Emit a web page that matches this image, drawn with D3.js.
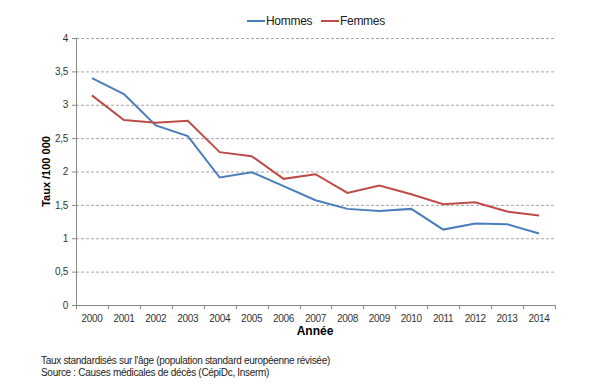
<!DOCTYPE html>
<html lang="fr">
<head>
  <meta charset="UTF-8">
  <title>Taux /100 000 - Hommes / Femmes</title>
  <script src="https://d3js.org/d3.v7.min.js"></script>
  <style>
    body {
      margin: 0;
      background: #ffffff;
      font-family: "Liberation Sans", Arial, sans-serif;
    }
    .tick text {
      fill: #333;
      font-size: 10px;
      letter-spacing: -0.3px;
    }
    .grid line {
      stroke: #a6a6a6;
      stroke-dasharray: 3,2;
    }
    .line {
      fill: none;
      stroke-width: 2px;
    }
    .note {
      font-size: 10px;
      fill: #222;
      letter-spacing: -0.3px;
    }
  </style>
</head>
<body>
<div id="chart"></div>
<script>
// data
const years = ["2000","2001","2002","2003","2004","2005","2006","2007","2008","2009","2010","2011","2012","2013","2014"];
const hommes = [3.40, 3.16, 2.69, 2.53, 1.91, 1.99, 1.78, 1.57, 1.44, 1.41, 1.44, 1.13, 1.22, 1.21, 1.07];
const femmes = [3.14, 2.77, 2.73, 2.76, 2.29, 2.23, 1.89, 1.96, 1.68, 1.79, 1.66, 1.51, 1.54, 1.40, 1.34];
const yTicks = [0, 0.5, 1, 1.5, 2, 2.5, 3, 3.5, 4];

const series = [
  { label: "Hommes", values: hommes, color: "#4a7ebb" },
  { label: "Femmes", values: femmes, color: "#be4b48" }
];

const W = 600, H = 387;
const margin = { top: 38, right: 45, bottom: 82, left: 76 };
const width = W - margin.left - margin.right;
const height = H - margin.top - margin.bottom;

const svg = d3.select("#chart").append("svg")
    .attr("width", W)
    .attr("height", H);

const chart = svg.append("g")
    .attr("transform", `translate(${margin.left},${margin.top})`);

const x = d3.scaleBand().domain(years).range([0, width]);
const y = d3.scaleLinear().domain([0, 4]).range([height, 0]);

// gridlines
chart.append("g")
    .attr("class", "grid")
    .selectAll("line")
    .data(yTicks.filter(d => d > 0))
    .join("line")
    .attr("x1", 0)
    .attr("x2", width)
    .attr("y1", d => y(d) + 0.5)
    .attr("y2", d => y(d) + 0.5);

const fmt = d => String(d).replace(".", ",");

// y axis
const yAxis = chart.append("g")
    .call(d3.axisLeft(y).tickValues(yTicks).tickFormat(fmt).tickSize(4).tickPadding(4));
yAxis.select(".domain").attr("stroke", "#888").attr("d", `M0.5,0V${height}`);
yAxis.selectAll(".tick line").attr("stroke", "#888");

// x axis, ticks between categories
const xAxis = chart.append("g")
    .attr("transform", `translate(0,${height})`)
    .call(d3.axisBottom(x).tickSize(0).tickPadding(8));
xAxis.select(".domain").attr("stroke", "#888");
xAxis.selectAll(".tick text").attr("dy", "0.9em");
chart.append("g")
    .attr("transform", `translate(0,${height})`)
    .selectAll("line")
    .data(years.concat(["end"]))
    .join("line")
    .attr("x1", (d, i) => Math.round(i * x.step()) + 0.5)
    .attr("x2", (d, i) => Math.round(i * x.step()) + 0.5)
    .attr("y1", 0)
    .attr("y2", 4)
    .attr("stroke", "#888");

// lines
series.forEach(s => {
  const line = d3.line()
      .x((d, i) => x(years[i]) + x.bandwidth() / 2)
      .y(d => y(d));
  chart.append("path")
      .datum(s.values)
      .attr("class", "line")
      .attr("stroke", s.color)
      .attr("d", line);
});

// axis titles
svg.append("text")
    .attr("transform", `translate(50,${margin.top + height / 2}) rotate(-90)`)
    .attr("text-anchor", "middle")
    .style("font-size", "11px")
    .style("font-weight", "bold")
    .text("Taux /100 000");

svg.append("text")
    .attr("x", 315)
    .attr("y", 335)
    .attr("text-anchor", "middle")
    .style("font-size", "12px")
    .style("font-weight", "bold")
    .text("Année");

// legend
const legendX = [247, 321];
series.forEach((s, i) => {
  const g = svg.append("g").attr("transform", `translate(${legendX[i]},21)`);
  g.append("line")
      .attr("x1", 0).attr("x2", 18)
      .attr("stroke", s.color)
      .attr("stroke-width", 2);
  g.append("text")
      .attr("x", 19)
      .attr("y", 4)
      .style("font-size", "12px")
      .style("letter-spacing", "-0.3px")
      .style("fill", "#222")
      .text(s.label);
});

// footnotes
const notes = [
  "Taux standardisés sur l'âge (population standard européenne révisée)",
  "Source : Causes médicales de décès (CépiDc, Inserm)"
];
svg.selectAll(".note")
    .data(notes)
    .join("text")
    .attr("class", "note")
    .attr("x", 41)
    .attr("y", (d, i) => 364 + i * 11.5)
    .text(d => d);
</script>
</body>
</html>
